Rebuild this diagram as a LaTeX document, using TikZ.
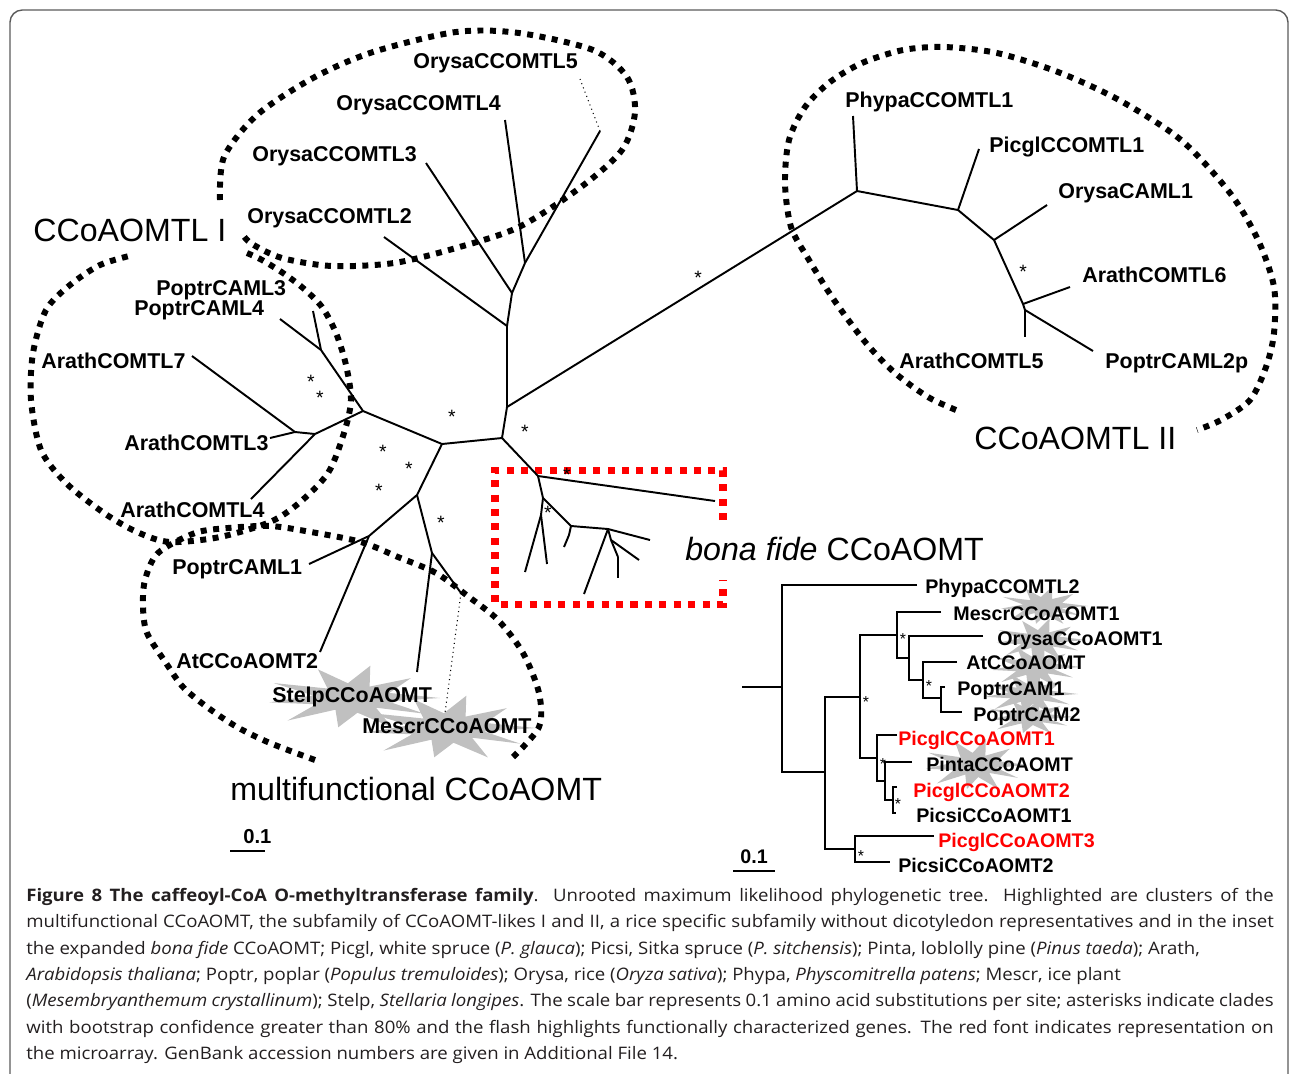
\documentclass[tikz,border=0pt]{standalone}
\usepackage{fontspec}
\setmainfont{Liberation Sans}
\newfontfamily\capfont[FakeStretch=1.08]{Open Sans}
\usetikzlibrary{calc}
\definecolor{flashcol}{RGB}{192,192,192}
\definecolor{framecol}{RGB}{90,90,90}
\definecolor{capcol}{RGB}{35,31,32}
\tikzset{
  branch/.style={line width=1.1pt},
  ibranch/.style={line width=1.5pt},
  faint/.style={line width=0.6pt, dotted},
  ring/.style={line width=3.4pt, dash pattern=on 3.4pt off 3.7pt},
  redring/.style={red, line width=4pt, dash pattern=on 4pt off 4.2pt},
  framebox/.style={framecol, line width=0.8pt, rounded corners=7pt},
  leaf/.style={font=\fontsize{12.2}{14}\selectfont\bfseries, inner sep=0pt, anchor=base west},
  ileaf/.style={font=\fontsize{11.2}{13}\selectfont\bfseries, inner sep=0pt, anchor=base west},
  clade/.style={font=\fontsize{18.3}{20}\selectfont, inner sep=0pt, anchor=base west},
  bs/.style={font=\fontsize{11}{12}\selectfont, inner sep=0pt, anchor=base},
  ibs/.style={font=\fontsize{9}{10}\selectfont, inner sep=0pt, anchor=base},
  scalebar/.style={line width=1.2pt},
  caption/.style={anchor=north west, inner sep=0pt, text width=710pt, align=justify,
    text=capcol, font=\capfont\fontsize{9.8}{15}\selectfont},
}
\newcommand\flash[3]{%
  \fill[flashcol, shift={#1}, xscale=#2, yscale=#3]
    (0:1) -- (14:0.42) -- (30:0.95) -- (47:0.4) -- (63:1) -- (82:0.45) -- (100:0.9)
    -- (118:0.4) -- (137:1) -- (155:0.45) -- (172:0.95) -- (190:0.45) -- (207:1)
    -- (226:0.4) -- (246:0.95) -- (264:0.45) -- (282:1) -- (300:0.4) -- (318:0.9)
    -- (340:0.45) -- cycle;}

\begin{document}
\begin{tikzpicture}[x=0.02cm, y=-0.02cm]
  \useasboundingbox (0,0) rectangle (1290,1073);
  \draw[framebox] (10,1100) -- (10,10) -- (1288,10) -- (1288,1100);

  % flashes
  \flash{(352,698)}{88}{33}
  \flash{(448,728)}{88}{33}
  \flash{(1043,606)}{45}{20}
  \flash{(1040,640)}{46}{22}
  \flash{(1035,667)}{46}{22}
  \flash{(1030,694)}{48}{22}
  \flash{(1030,717)}{45}{18}
  \flash{(975,765)}{52}{27}

  % clusters
  \draw[ring] plot[smooth] coordinates {(220,200) (224,157) (257,115) (313,78) (373,52)
    (456,32) (519,33) (593,50) (627,77) (635,112) (622,150) (581,187) (519,227)
    (456,248) (394,263) (332,266) (282,258) (252,244) (243,235)};
  \draw[ring] plot[smooth] coordinates {(247,253) (262,260) (283,273) (303,288) (322,307)
    (336,333) (346,365) (351,400) (344,433) (328,473) (299,503) (270,522) (220,537)
    (170,542) (137,532) (104,513) (66,483) (41,450) (31,400) (33,353) (46,310)
    (70,285) (100,265) (133,255)};
  \draw[ring] plot[smooth] coordinates {(315,760) (270,743) (237,727) (207,707) (183,687)
    (166,663) (147,633) (143,607) (145,580) (158,553) (195,533) (228,528) (270,526)
    (311,532) (361,542) (398,557) (436,573) (469,597) (498,620) (523,653) (539,693)
    (539,727) (512,758)};
  \draw[ring] plot[smooth] coordinates {(956,410) (928,397) (895,373) (866,343) (834,300)
    (809,260) (791,227) (785,183) (789,140) (805,107) (830,82) (862,63) (903,50)
    (944,47) (997,53) (1058,72) (1119,100) (1181,140) (1230,193) (1258,240)
    (1274,287) (1274,333) (1266,367) (1250,400) (1221,420) (1197,430)};
  \draw[redring] (723,520) -- (723,470) -- (495,470) -- (495,604) -- (723,604) -- (723,580);

  % unrooted tree
  \foreach \n/\x/\y in {c1/502/438, u1/507/407, u2/507/326, u3/512/293, u4/525/263,
      p1/857/191, p2/958/210, p3/994/240, p4/1023/304, p5/1025/310,
      c2/442/444, c3/363/411, c4/321/350, c5/315/434, c6/295/432,
      c7/417/495, c8/369/536, c9/432/553, c10/461/593,
      b1/538/476, b2/543/498, b2a/541/515, b3/571/526, b3a/569/535, b4/608/529,
      b5/611/540, b5a/618/557,
      tO2/384/237, tO3/426/163, tO4/505/120, tO5/600/131, tO5d/580/79,
      tP1/853/116, tPi1/979/149, tOC1/1047/205, tA6/1070/287, tA5/1025/337, tPC2/1093/351,
      tPC3/313/311, tPC4/280/319, tA7/192/356, tA3/270/438, tA4/251/499,
      tPC1/309/564, tAt2/320/652, tSt/417/672, tMe/445/713,
      tB1/715/501, tB2/525/572, tB3/547/564, tB4/564/547, tB5/650/540, tB6/584/594,
      tB7/639/560, tB8/618/578}
    \coordinate (\n) at (\x,\y);

  \foreach \a/\b in {c1/u1, u1/u2, u2/u3, u3/u4, u4/tO4, u4/tO5, u3/tO3, u2/tO2,
      u1/p1, p1/tP1, p1/p2, p2/tPi1, p2/p3, p3/tOC1, p3/p4, p4/tA6, p4/p5, p5/tA5, p5/tPC2,
      c1/c2, c2/c3, c3/c4, c4/tPC3, c4/tPC4, c3/c5, c5/c6, c6/tA7, c6/tA3, c5/tA4,
      c2/c7, c7/c8, c8/tPC1, c8/tAt2, c7/c9, c9/tSt, c9/c10,
      c1/b1, b1/tB1, b1/b2, b2/b2a, b2a/tB2, b2a/tB3, b2/b3, b3/b3a, b3a/tB4, b3/b4,
      b4/tB5, b4/tB6, b4/b5, b5/tB7, b5/b5a, b5a/tB8}
    \draw[branch] (\a) -- (\b);
  \draw[faint] (tO5) -- (tO5d);
  \draw[faint] (c10) -- (tMe);

  \foreach \n/\x/\y/\t in {nO5/413/68/OrysaCCOMTL5, nO4/336/110/OrysaCCOMTL4,
      nO3/252/161/OrysaCCOMTL3, nO2/247/223/OrysaCCOMTL2, nPC3/156/295/PoptrCAML3,
      nPC4/134/315/PoptrCAML4, nA7/41/368/ArathCOMTL7, nA3/124/450/ArathCOMTL3,
      nA4/120/517/ArathCOMTL4, nPC1/172/574/PoptrCAML1, nAt2/176/668/AtCCoAOMT2,
      nSt/272/702/StelpCCoAOMT, nMe/362/733/MescrCCoAOMT, nP1/845/107/PhypaCCOMTL1,
      nPi1/989/152/PicglCCOMTL1, nOC1/1058/198/OrysaCAML1, nA6/1082/282/ArathCOMTL6,
      nA5/899/368/ArathCOMTL5, nPC2/1105/368/PoptrCAML2p}
    \node[leaf] (\n) at (\x,\y) {\t};

  \node[clade] (cI) at (33,241) {CCoAOMTL I};
  \node[clade] (cII) at (974,449) {CCoAOMTL II};
  \node[clade] (cMf) at (230,800) {multifunctional CCoAOMT};
  \node[clade] (cBf) at (685,560) {\textit{bona fide} CCoAOMT};

  \foreach \x/\y [count=\i] in {311/377, 320/393, 452/412, 525/427, 383/447, 409/464,
      379/486, 441/518, 567/470, 548/508, 698/273, 1023/267}
    \node[bs] (bs\i) at (\x,\y+11) {*};

  % inset
  \foreach \n/\x/\y in {k0/742/687, k1/782/687, k2/825/772, k3/860/697, k4/855/849,
      k5/897/635, k6/877/758, k7/909/658, k8/923/680, k9/941/698, k10/885/781, k11/893/800,
      jPh/917/585, jMe/941/612, jOr/983/636, jAt/957/662, jPo1/945/687, jPo2/962/712,
      jPg1/897/735, jPi/912/762, jPg2/897/787, jPs1/896/813, jPg3/934/836, jPs2/890/862}
    \coordinate (\n) at (\x,\y);
  \draw[ibranch] (k0) -- (k1);
  \foreach \a/\p/\b in {jPh/k1/k2, k3/k2/k4, k5/k3/k6, jMe/k5/k7, jOr/k7/k8, jAt/k8/k9,
      jPo1/k9/jPo2, jPg1/k6/k10, jPi/k10/k11, jPg2/k11/jPs1, jPg3/k4/jPs2}
    \draw[ibranch] (\a) -| (\p) |- (\b);

  \foreach \n/\x/\y/\t in {iPh/925/593/PhypaCCOMTL2, iMe/953/620/MescrCCoAOMT1,
      iOr/997/645/OrysaCCoAOMT1, iAt/966/669/AtCCoAOMT, iP1/957/695/PoptrCAM1,
      iP2/973/721/PoptrCAM2, iPi/926/771/PintaCCoAOMT, iPs1/916/822/PicsiCCoAOMT1,
      iPs2/898/872/PicsiCCoAOMT2}
    \node[ileaf] (\n) at (\x,\y) {\t};
  \foreach \n/\x/\y/\t in {iPg1/898/745/PicglCCoAOMT1, iPg2/913/797/PicglCCoAOMT2,
      iPg3/938/847/PicglCCoAOMT3}
    \node[ileaf, red] (\n) at (\x,\y) {\t};

  \foreach \x/\y [count=\i] in {903/635, 929/682, 866/698, 883/760, 898/800, 861/852}
    \node[ibs] (ibs\i) at (\x,\y+9) {*};

  % scale bars
  \node[leaf, font=\fontsize{11.5}{13}\selectfont\bfseries] (sb1) at (243,843) {0.1};
  \draw[scalebar] (230,851) -- (265,851);
  \node[ileaf] (sb2) at (740,863) {0.1};
  \draw[scalebar] (733,871) -- (775,871);

  \node[caption] (cap) at (26,888) {\hyphenpenalty=10000\tolerance=10000
    \textbf{Figure 8 The caffeoyl-CoA O-methyltransferase family}. Unrooted maximum likelihood phylogenetic tree. Highlighted are clusters of the\linebreak
    multifunctional CCoAOMT, the subfamily of CCoAOMT-likes I and II, a rice specific subfamily without dicotyledon representatives and in the inset\linebreak
    the expanded \textit{bona fide} CCoAOMT; Picgl, white spruce (\textit{P. glauca}); Picsi, Sitka spruce (\textit{P. sitchensis}); Pinta, loblolly pine (\textit{Pinus taeda}); Arath,\newline
    \textit{Arabidopsis thaliana}; Poptr, poplar (\textit{Populus tremuloides}); Orysa, rice (\textit{Oryza sativa}); Phypa, \textit{Physcomitrella patens}; Mescr, ice plant\newline
    (\textit{Mesembryanthemum crystallinum}); Stelp, \textit{Stellaria longipes}. The scale bar represents 0.1 amino acid substitutions per site; asterisks indicate clades\linebreak
    with bootstrap confidence greater than 80\% and the flash highlights functionally characterized genes. The red font indicates representation on\linebreak
    the microarray. GenBank accession numbers are given in Additional File 14.};
\end{tikzpicture}
\end{document}
